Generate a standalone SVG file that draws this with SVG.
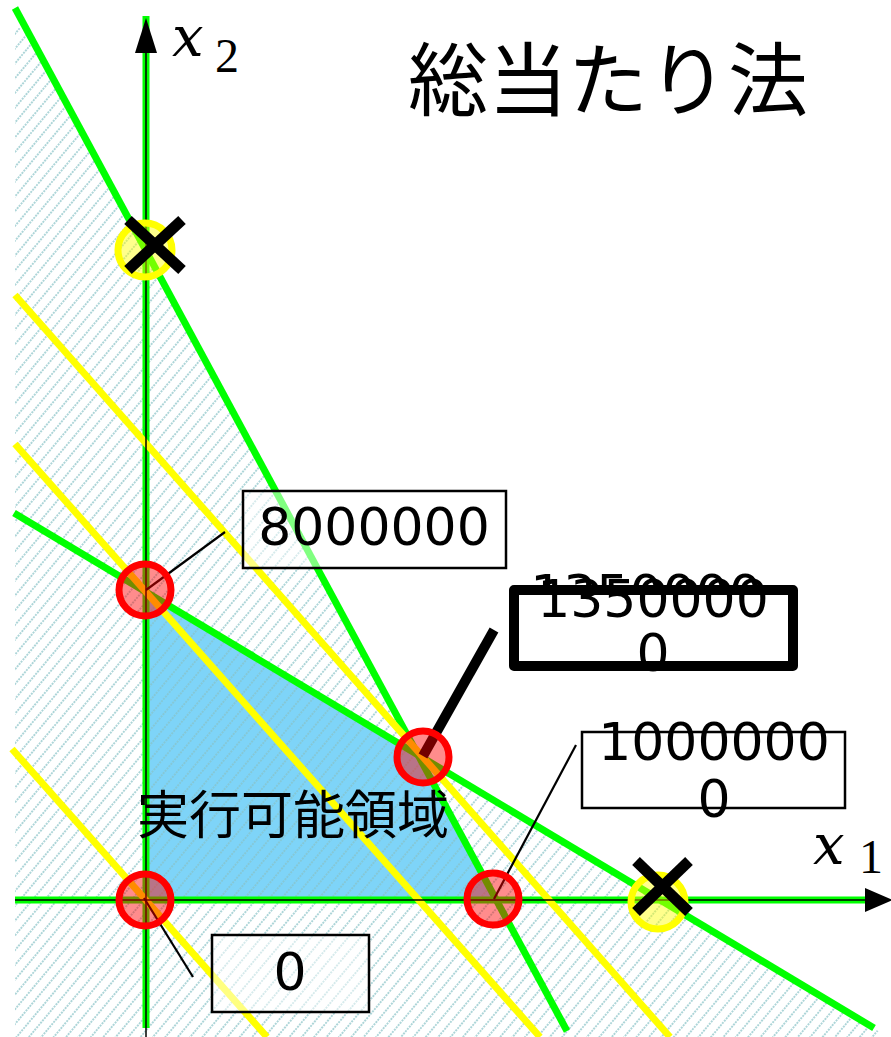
<svg xmlns="http://www.w3.org/2000/svg" width="891" height="1037" viewBox="0 0 891 1037">
<style>
.num{font-family:"DejaVu Sans","Noto Sans",sans-serif;font-size:52px;fill:#000;text-anchor:middle}
.jp{font-family:"Noto Sans CJK JP",sans-serif;fill:#000}
.green{stroke:#00ff00;stroke-width:7;fill:none;stroke-linecap:butt}
.yellow{stroke:#ffff00;stroke-width:7;fill:none}
.red{stroke:#ff0000;stroke-width:7;fill:rgba(255,0,0,0.45)}
.ycirc{stroke:#ffff00;stroke-width:7;fill:rgba(255,255,0,0.45)}
.cross{stroke:#000;stroke-width:11;stroke-linecap:butt}
.box{fill:rgba(255,255,255,0.5);stroke:#000;stroke-width:2.5}
.lead{stroke:#000;stroke-width:2.2}
.mx{font-family:"DejaVu Serif","Liberation Serif",serif;font-style:italic;fill:#000}
.md{font-family:"Liberation Serif","DejaVu Serif",serif;fill:#000}
</style>
<defs>
<pattern id="hatch" patternUnits="userSpaceOnUse" width="9.5" height="6" patternTransform="rotate(40)">
<line x1="4.75" y1="0" x2="4.75" y2="6" stroke="#88c2c6" stroke-width="1.3" stroke-dasharray="2 1"/>
</pattern>
</defs>
<rect width="891" height="1037" fill="#fff"/>
<g id="feasible-region">
<polygon points="146,592 418,755 494,900 146,900" fill="#7ed4f8" stroke="#1d3b48" stroke-width="1.5"/>
</g>
<g id="hatch-area">
<path d="M15,28 L26,28 L418,755 L880,1032 L880,1037 L15,1037 Z" fill="url(#hatch)"/>
</g>
<g id="connectors">
<line class="green" x1="15" y1="8" x2="567" y2="1031"/>
<line class="green" x1="14" y1="513" x2="874" y2="1028"/>
<line class="green" x1="146" y1="16" x2="146" y2="1028"/>
<line class="green" x1="15" y1="900" x2="866" y2="900"/>
<line class="yellow" x1="15" y1="295" x2="670" y2="1037"/>
<line class="yellow" x1="15" y1="444" x2="540" y2="1037"/>
<line class="yellow" x1="12" y1="749" x2="267" y2="1037"/>
<line x1="146" y1="1037" x2="146" y2="40" stroke="#000" stroke-width="1.5"/>
<line x1="15" y1="900" x2="870" y2="900" stroke="#000" stroke-width="1.5"/>
<polygon points="146,18 135,53 157,53" fill="#000"/>
<polygon points="893,900 865,888 865,912" fill="#000"/>
<line class="lead" x1="146" y1="590" x2="225" y2="532"/>
<line class="lead" x1="144" y1="898" x2="193" y2="977"/>
<line class="lead" x1="494" y1="899" x2="576" y2="745"/>
<line x1="423" y1="756" x2="494" y2="630" stroke="#000" stroke-width="10"/>
</g>
<g id="vertex-origin"><circle class="red" cx="145" cy="900" r="26"/></g>
<g id="vertex-x2"><circle class="red" cx="145" cy="590" r="26"/></g>
<g id="vertex-opt"><circle class="red" cx="423" cy="757" r="26"/></g>
<g id="vertex-x1"><circle class="red" cx="493" cy="899" r="26"/></g>
<g id="infeasible-x2">
<circle class="ycirc" cx="145" cy="250" r="27"/>
<line class="cross" x1="128" y1="220" x2="182" y2="270"/>
<line class="cross" x1="182" y1="220" x2="128" y2="270"/>
</g>
<g id="infeasible-x1">
<circle class="ycirc" cx="658" cy="902" r="27"/>
<line class="cross" x1="636" y1="861" x2="689" y2="912"/>
<line class="cross" x1="689" y1="861" x2="636" y2="912"/>
</g>
<g id="label-8000000">
<rect class="box" x="243" y="491" width="263" height="77"/>
<text class="num" x="374" y="545">8000000</text>
</g>
<g id="label-0">
<rect class="box" x="212" y="935" width="157" height="77"/>
<text class="num" x="290" y="990">0</text>
</g>
<g id="label-10000000">
<rect class="box" x="582" y="732" width="263" height="76"/>
<text class="num" x="714" y="760">1000000</text>
<text class="num" x="714" y="817">0</text>
</g>
<g id="label-13500000">
<text class="num" x="646" y="612">1350000</text>
<rect x="514" y="590" width="279" height="76" fill="#fff" stroke="#000" stroke-width="10" stroke-linejoin="round"/>
<text class="num" x="653" y="617">1350000</text>
<text class="num" x="653" y="671">0</text>
</g>
<g id="region-label">
<text class="jp" x="137" y="834" font-size="52">実行可能領域</text>
</g>
<g id="title">
<text class="jp" x="408" y="109" font-size="80">総当たり法</text>
</g>
<g id="axis-labels">
<text class="mx" x="172" y="56" font-size="56">x</text>
<text class="md" x="215" y="72" font-size="48">2</text>
<text class="mx" x="813" y="864" font-size="56">x</text>
<text class="md" x="859" y="873" font-size="48">1</text>
</g>
</svg>
